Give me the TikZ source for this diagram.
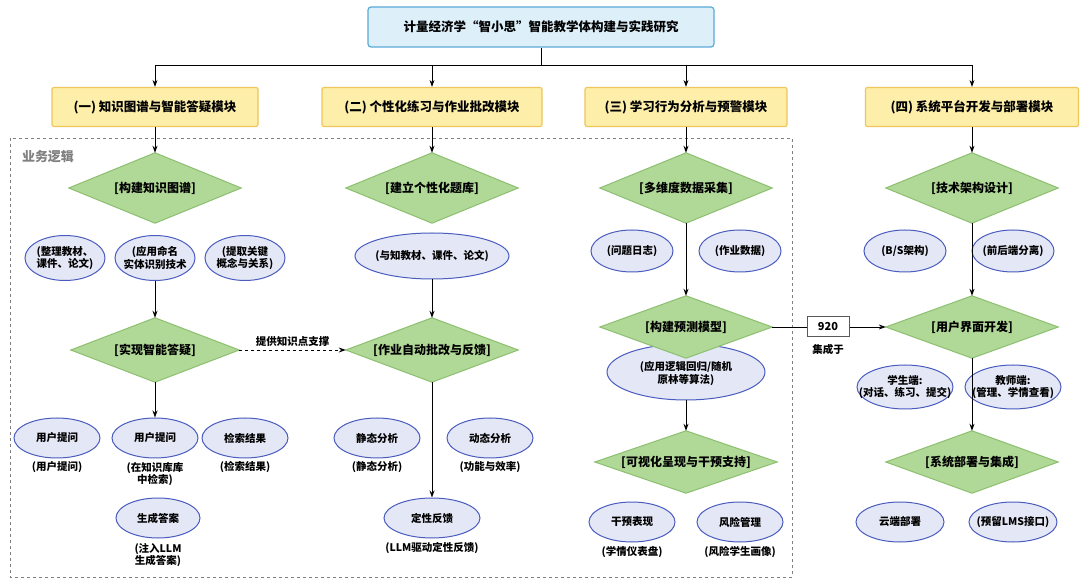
\documentclass[tikz,border=0pt]{standalone}
\usepackage{fontspec}
\setmainfont{Noto Sans CJK SC}
\usetikzlibrary{shapes.geometric,arrows.meta}
\definecolor{tfill}{HTML}{DDF0FA}\definecolor{tline}{HTML}{5AAAD8}
\definecolor{mfill}{HTML}{FDEFAA}\definecolor{mline}{HTML}{EEC65A}
\definecolor{dfill}{HTML}{B0D896}\definecolor{dline}{HTML}{8CC070}
\definecolor{efill}{HTML}{E4E7F5}\definecolor{eline}{HTML}{4A5CBF}
\tikzset{
 x=1pt,y=-1pt,
 title/.style={draw=tline,fill=tfill,line width=1.2pt,rounded corners=3pt,minimum width=346,minimum height=40,font=\fontsize{12.5}{14}\selectfont\bfseries},
 mod/.style={draw=mline,fill=mfill,line width=1.2pt,rounded corners=2pt,minimum height=39,font=\fontsize{12.5}{14}\selectfont\bfseries},
 dnode/.style={minimum width=#1,inner sep=0},
 dshape/.style={draw=dline,fill=dfill,line width=1pt},
 ellsh/.style={ellipse,draw=eline,fill=efill,line width=1pt,inner sep=0},
 lab/.style={align=center,font=\fontsize{10.5}{12.5}\selectfont\bfseries},
 arr/.style={-{Stealth[length=7pt,width=5pt]},line width=0.9pt},
}
\newcommand{\dia}[6]{\node[dnode=#4,minimum height=#5] (#1) at (#2,#3) {};
 \draw[dshape] (#1.north)--(#1.east)--(#1.south)--(#1.west)--cycle;
 \node[font=\fontsize{12}{14}\selectfont\bfseries] at (#1) {#6};}
\newcommand{\elp}[6]{\node[ellsh,minimum width=#4,minimum height=#5] (#1) at (#2,#3) {};
 \node[lab] at (#1) {#6};}
\begin{document}
\begin{tikzpicture}
\useasboundingbox (0,0) rectangle (1080,585);
\fill[white] (0,0) rectangle (1080,585);
\draw[gray,dashed,line width=0.9pt] (10,138) rectangle (792,577);
\node[gray,font=\fontsize{13}{15}\selectfont\bfseries] (bl) at (48,157) {业务逻辑};
\node[title] (t) at (541,27) {计量经济学“智小思”智能教学体构建与实践研究};
\node[mod,minimum width=206] (m1) at (155,107) {(一) 知识图谱与智能答疑模块};
\node[mod,minimum width=220] (m2) at (432,107) {(二) 个性化练习与作业批改模块};
\node[mod,minimum width=202] (m3) at (686,107) {(三) 学习行为分析与预警模块};
\node[mod,minimum width=213] (m4) at (972,107) {(四) 系统平台开发与部署模块};
\coordinate (b0) at (541,65);\coordinate (b1) at (155,65);\coordinate (b2) at (432,65);
\coordinate (b3) at (686,65);\coordinate (b4) at (972,65);
\draw[line width=0.9pt] (t.south)--(b0) (b1)--(b4);
\foreach \i in {1,2,3,4}{\draw[arr] (b\i)--(m\i.north);}
% column 1
\dia{d11}{155}{188}{172}{70}{[构建知识图谱]}
\elp{e11}{65}{258}{80}{45}{(整理教材、\\课件、论文)}
\elp{e12}{155}{258}{80}{45}{(应用命名\\实体识别技术}
\elp{e13}{245}{258}{80}{45}{(提取关键\\概念与关系)}
\dia{d12}{155}{350}{168}{64}{[实现智能答疑]}
\elp{e14}{57}{438}{86}{40}{用户提问}
\elp{e15}{155}{438}{86}{40}{用户提问}
\elp{e16}{245}{438}{86}{40}{检索结果}
\elp{e17}{158}{518}{84}{40}{生成答案}
\node[lab] (l14) at (57,467) {(用户提问)};
\node[lab] (l15) at (155,474) {(在知识库库\\中检索)};
\node[lab] (l16) at (245,467) {(检索结果)};
\node[lab] (l17) at (158,555) {(注入LLM\\生成答案)};
\draw[arr] (m1)--(d11.north);
\draw[arr] (e12)--(d12.north);
\draw[arr] (d12.south)--(e15);
% column 2
\dia{d21}{432}{188}{172}{70}{[建立个性化题库]}
\elp{e21}{432}{256}{154}{46}{(与知教材、课件、论文)}
\dia{d22}{432}{350}{172}{64}{[作业自动批改与反馈]}
\elp{e22}{377}{438}{86}{40}{静态分析}
\elp{e23}{490}{438}{86}{40}{动态分析}
\elp{e24}{432}{518}{96}{40}{定性反馈}
\node[lab] (l22) at (377,467) {(静态分析)};
\node[lab] (l23) at (490,467) {(功能与效率)};
\node[lab] (l24) at (432,548) {(LLM驱动定性反馈)};
\draw[arr] (m2)--(d21.north);
\draw[arr] (e21)--(d22.north);
\draw[arr] (d22.south)--(e24);
\draw[arr,dashed] (d12.east)--node[lab,above]{提供知识点支撑}(d22.west);
% column 3
\dia{d31}{686}{188}{172}{70}{[多维度数据采集]}
\elp{e31}{632}{251}{82}{42}{(问题日志)}
\elp{e32}{740}{251}{82}{42}{(作业数据)}
\elp{e33}{686}{372}{158}{56}{\\(应用逻辑回归/随机\\原林等算法)}
\dia{d32}{686}{327}{172}{62}{[构建预测模型]}
\dia{d33}{686}{462}{182}{62}{[可视化呈现与干预支持]}
\elp{e34}{632}{522}{86}{40}{干预表现}
\elp{e35}{740}{522}{86}{40}{风险管理}
\node[lab] (l34) at (632,552) {(学情仪表盘)};
\node[lab] (l35) at (740,552) {(风险学生画像)};
\draw[arr] (m3)--(d31.north);
\draw[arr] (d31.south)--(d32.north);
\draw[arr] (e33.south)--(d33.north);
% column 4
\dia{d41}{972}{188}{172}{70}{[技术架构设计]}
\elp{e41}{905}{251}{82}{42}{(B/S架构)}
\elp{e42}{1013}{251}{82}{42}{(前后端分离)}
\dia{d42}{972}{327}{172}{62}{[用户界面开发]}
\elp{e43}{905}{387}{96}{44}{学生端:\\(对话、练习、提交)}
\elp{e44}{1013}{387}{96}{44}{教师端:\\(管理、学情查看)}
\dia{d43}{972}{462}{172}{62}{[系统部署与集成]}
\elp{e45}{900}{522}{88}{40}{云端部署}
\elp{e46}{1013}{522}{88}{40}{(预留LMS接口)}
\draw[arr] (m4)--(d41.north);
\draw[arr] (d41.south)--(d42.north);
\draw[arr] (d42.south)--(d43.north);
% link
\node[draw=gray!70!black,fill=white,line width=1pt,minimum width=42,minimum height=20,inner sep=1pt,font=\fontsize{11}{12}\selectfont\bfseries] (n920) at (828,327) {920};
\node[lab] (l920) at (828,350) {集成于};
\draw[line width=0.9pt] (d32.east)--(n920);
\draw[arr] (n920)--(d42.west);
\end{tikzpicture}
\end{document}
